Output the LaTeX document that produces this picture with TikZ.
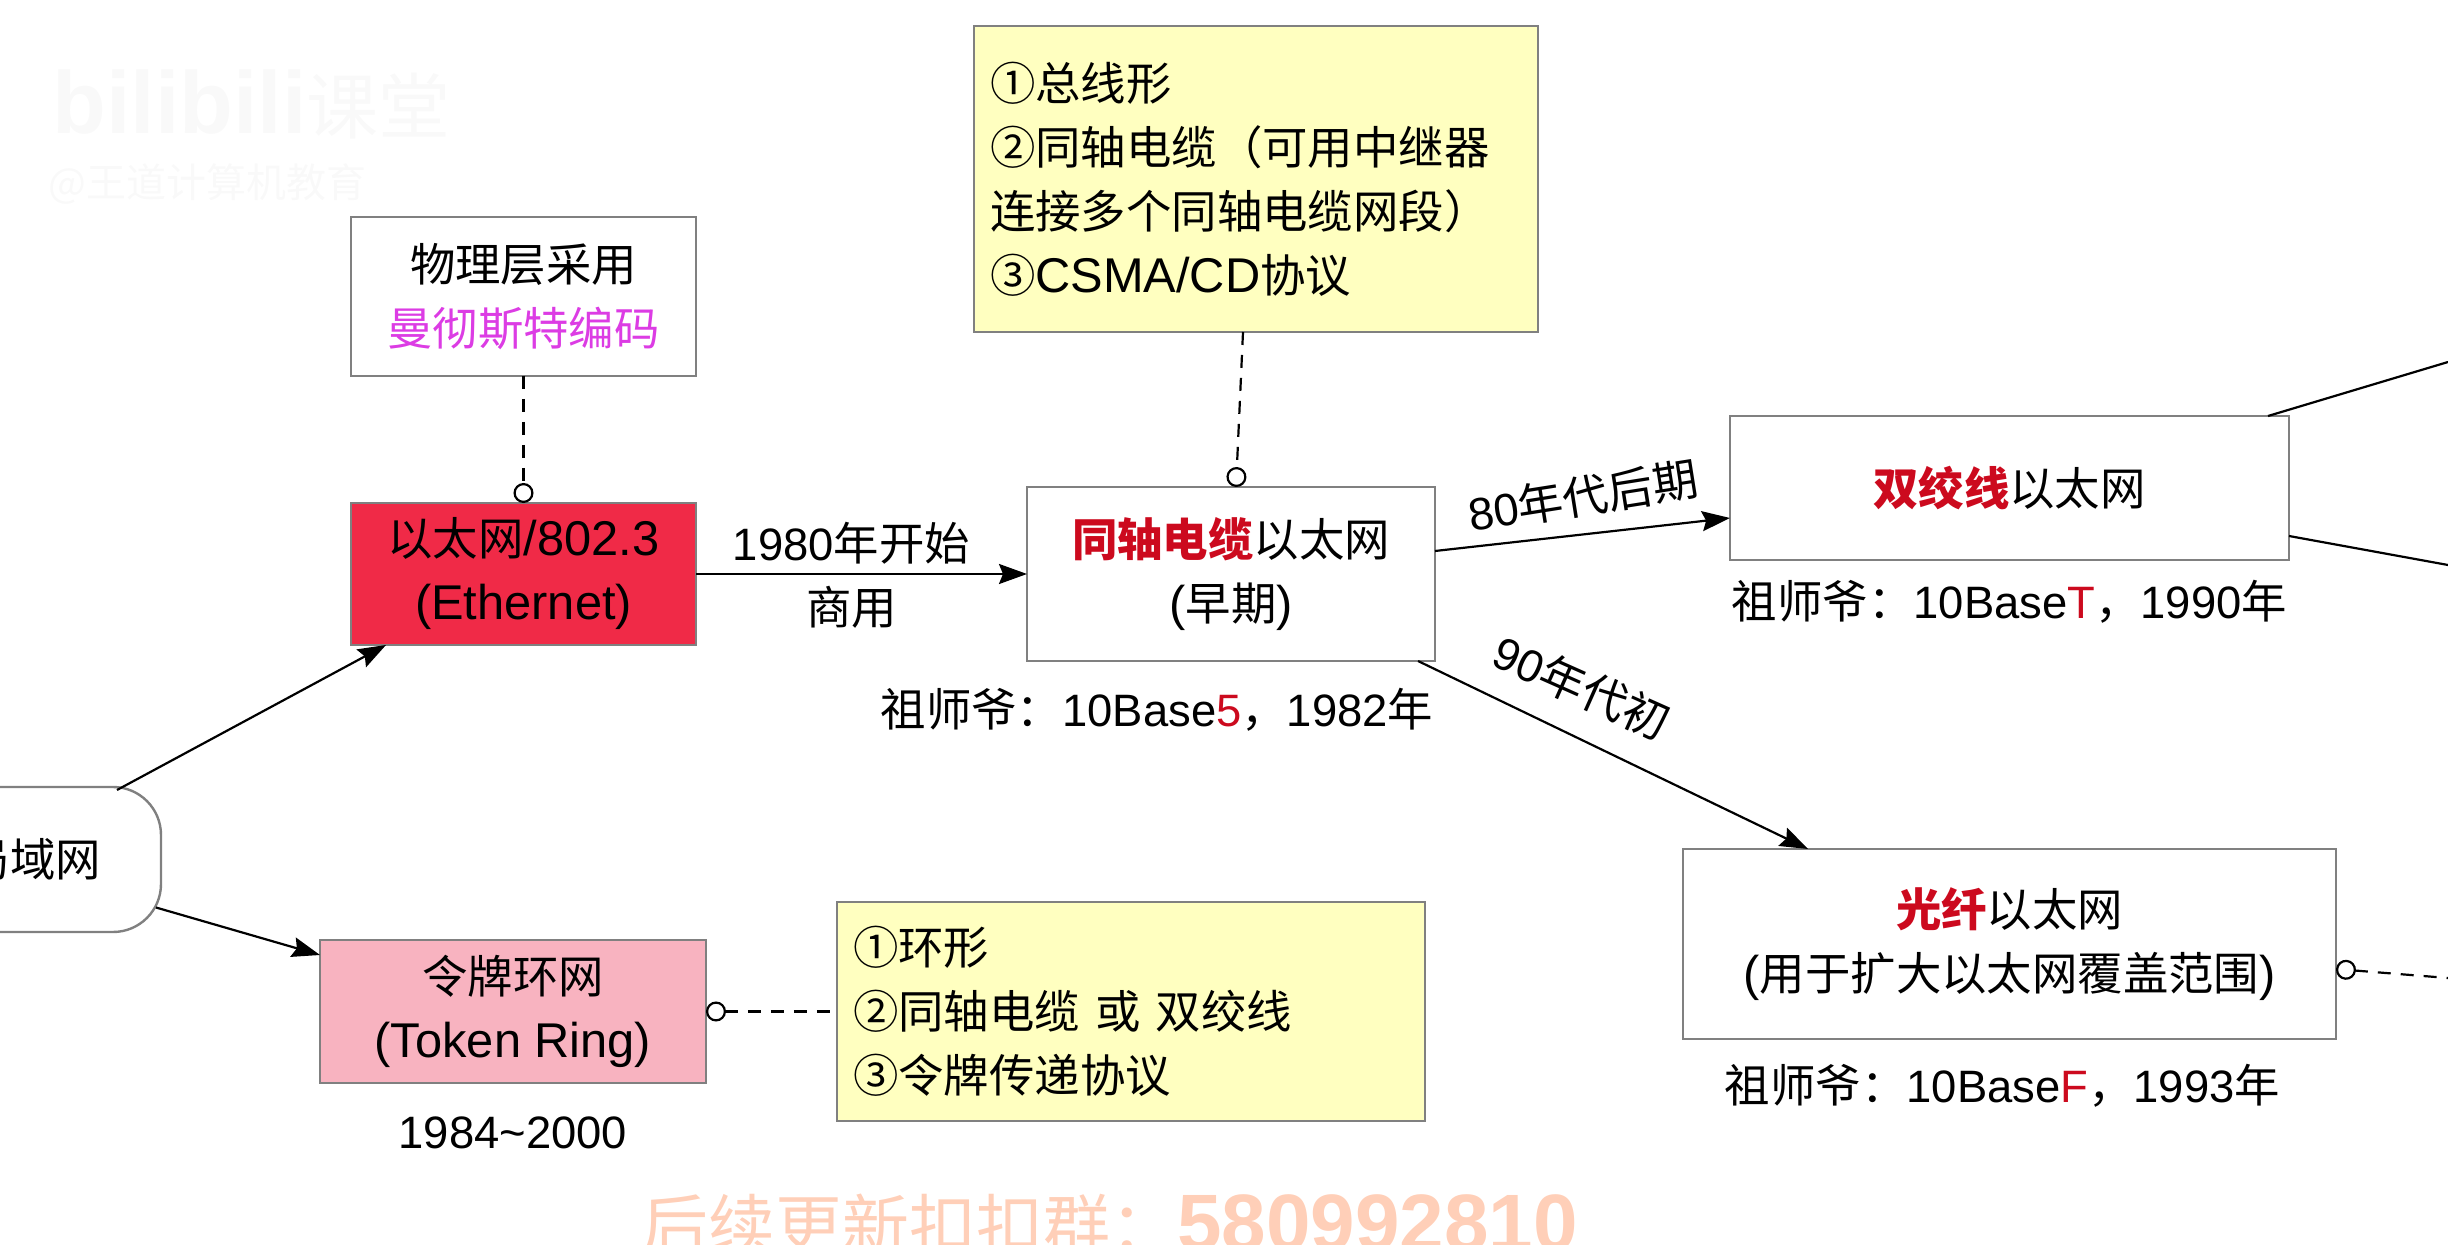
\documentclass[tikz,border=0pt]{standalone}
\usepackage{fontspec}
\usepackage{amsmath}
\usetikzlibrary{arrows.meta, positioning}
\setmainfont{Noto Sans CJK SC}
\newfontfamily\latfont{Liberation Sans}
\newcommand{\en}[1]{{\latfont #1}}
\newcommand{\enb}[1]{{\fontsize{24.4}{32}\selectfont\latfont #1}}
\definecolor{edgegray}{HTML}{808080}
\definecolor{ethred}{HTML}{F02A47}
\definecolor{tokenpink}{HTML}{F8B3C0}
\definecolor{noteyellow}{HTML}{FFFFC0}
\definecolor{hlred}{HTML}{CC0A1E}
\definecolor{hlpurple}{HTML}{DC3CE4}
\definecolor{wmpeach}{HTML}{FFCFB8}
\definecolor{wmgray}{HTML}{F9F9F9}
\newcommand{\hl}[1]{\textcolor{hlred}{\bfseries #1}}

\begin{document}
\begin{tikzpicture}[x=.5pt, y=-.5pt, >={Stealth[length=14pt,width=10pt,inset=2pt]},
  font=\fontsize{22.7}{32}\selectfont]
  \tikzset{
    opendot/.tip={Circle[open,fill=white,length=10pt,width=10pt]},
    blank/.style={
      inner sep=0pt,
      align=center},
    wmtext/.style={
      inner sep=0pt,
      anchor=base west},
    box/.style={
      rectangle,
      draw=edgegray,
      line width=1.2pt,
      inner sep=0pt,
      outer sep=0pt,
      align=center},
    notebox/.style={
      box,
      fill=noteyellow,
      align=left,
      inner xsep=8pt},
    link/.style={
      line width=1.1pt},
    dashlink/.style={
      line width=1.1pt,
      dash pattern=on 6.5pt off 5pt}}

  \useasboundingbox (0,0) rectangle (2448,1245);
  \clip (0,0) rectangle (2448,1245);

  \node[wmtext, text=wmgray] (wmlogo) at (52,134) {{\fontsize{44}{44}\selectfont\latfont\bfseries bilibili}{\fontsize{36}{36}\selectfont 课堂}};
  \node[wmtext, text=wmgray] (wmname) at (48,198) {{\fontsize{20}{20}\selectfont @王道计算机教育}};
  \node[wmtext, text=wmpeach] (wmgroup) at (641,1250) {{\fontsize{33.5}{33.5}\selectfont 后续更新扣扣群：}{\fontsize{40}{40}\selectfont\latfont\bfseries 580992810}};

  \node[box, rounded corners=24pt, minimum width=128pt, minimum height=72.5pt] (lan) at (33,859.5) {局域网};
  \node[box, fill=ethred, minimum width=172.5pt, minimum height=71pt] (eth) [above right=71pt and 95pt of lan.north east] {以太网\enb{/802.3}\\\enb{(Ethernet)}};
  \node[box, minimum width=172.5pt, minimum height=79.5pt] (phy) [above=63.5pt of eth] {物理层采用\\\textcolor{hlpurple}{曼彻斯特编码}};
  \node[box, minimum width=204pt, minimum height=87pt] (coax) [right=165.5pt of eth] {\hl{同轴电缆}以太网\\\enb{(}早期\enb{)}};
  \node[notebox, text width=266pt, minimum height=153pt] (coaxnote) [above=77.5pt of coax, xshift=12.5pt] {①总线形\\②同轴电缆（可用中继器\\连接多个同轴电缆网段）\\③\enb{CSMA/CD}协议};
  \node[box, minimum width=279.5pt, minimum height=72pt] (twisted) [right=147.5pt of coax, yshift=43pt] {\hl{双绞线}以太网};
  \node[box, minimum width=326.5pt, minimum height=95pt] (fiber) [below right=94pt and 124pt of coax.south east] {\hl{光纤}以太网\\\enb{(}用于扩大以太网覆盖范围\enb{)}};
  \node[box, fill=tokenpink, minimum width=193pt, minimum height=71.5pt] (token) [below right=4pt and 79.5pt of lan.south east] {令牌环网\\\enb{(Token Ring)}};
  \node[notebox, text width=278pt, minimum height=109.5pt] (tokennote) [right=65.5pt of token] {①环形\\②同轴电缆 或 双绞线\\③令牌传递协议};

  \node[blank] (coaxdate) [below=13.5pt of coax, xshift=-37pt] {祖师爷：\en{10Base\textcolor{hlred}{5}}，\en{1982}年};
  \node[blank] (twisteddate) [below=10pt of twisted] {祖师爷：\en{10Base\textcolor{hlred}{T}}，\en{1990}年};
  \node[blank] (fiberdate) [below=12.5pt of fiber, xshift=-3.5pt] {祖师爷：\en{10Base\textcolor{hlred}{F}}，\en{1993}年};
  \node[blank] (tokendate) [below=16.5pt of token] {\en{1984\textasciitilde 2000}};

  \coordinate (twistedup) at (2448,362);
  \coordinate (twisteddown) at (2448,565);
  \coordinate (fiberend) at (2448,978);

  \path[->, link] ([xshift=-22pt, yshift=-1.5pt]lan.north east) edge ([xshift=17.5pt]eth.south west);
  \path[->, link] ([xshift=-2.5pt, yshift=-24pt]lan.east) edge ([yshift=-7.5pt]token.north west);
  \path[->, link] (eth) edge
    node[blank, above=4.5pt, xshift=-5pt] (startlabel) {\en{1980}年开始}
    node[blank, below=5.5pt, xshift=-5pt] (uselabel) {商用} (coax);
  \path[->, link] ([yshift=11.5pt]coax.east) edge
    node[blank, rotate=9, above=8pt, xshift=2pt] (lateeighties) {\en{80}年代后期} ([yshift=-15pt]twisted.west);
  \path[->, link] ([xshift=-8.5pt]coax.south east) edge
    node[blank, pos=.36, rotate=-24, above=14pt, xshift=8pt] (earlynineties) {\en{90}年代初} ([xshift=62.5pt]fiber.north west);
  \path[link] ([xshift=-10.5pt]twisted.north east) edge (twistedup);
  \path[link] ([yshift=-24pt]twisted.east) edge (twisteddown);

  \draw[dashlink, -opendot] (phy) -- (eth);
  \draw[dashlink, -opendot] ([xshift=-6.5pt]coaxnote.south) -- ([xshift=2.5pt]coax.north);
  \draw[dashlink, opendot-] (token) -- (tokennote);
  \draw[dashlink, opendot-] ([yshift=-12.5pt]fiber.east) -- (fiberend);

\end{tikzpicture}
\end{document}
